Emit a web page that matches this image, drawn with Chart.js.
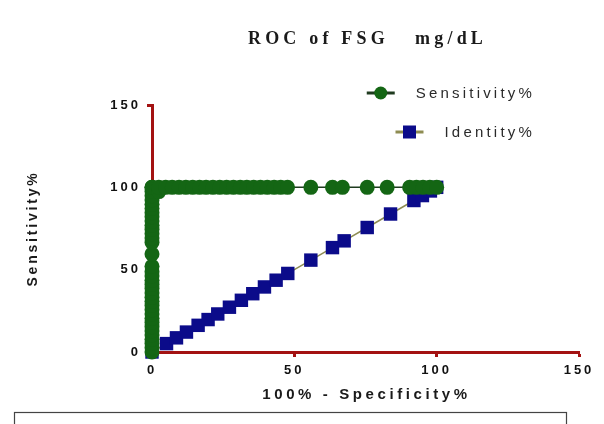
<!DOCTYPE html>
<html>
<head>
<meta charset="utf-8">
<script src="https://cdn.jsdelivr.net/npm/chart.js@4/dist/chart.umd.min.js"></script>
<style>
html, body { margin: 0; padding: 0; background: #fff; }
#wrap { width: 604px; height: 424px; }
</style>
</head>
<body>
<div id="wrap"><canvas id="rocChart" width="604" height="424"></canvas></div>
<script>
// ROC curve points: x = 100% - Specificity%, y = Sensitivity%
var sensX = [0, 0, 0, 0, 0, 0, 0, 0, 0, 0,
             0, 0, 0, 0, 0, 0, 0, 0, 0, 0,
             0, 0, 0, 0, 0, 0, 0, 0, 0, 0,
             0, 0, 0, 0, 0, 0, 0,
             2.4, 2.4, 4.8, 7.1, 9.5, 11.9, 14.3, 16.7, 19.0, 21.4,
             23.8, 26.2, 28.6, 31.0, 33.3, 35.7, 38.1, 40.5, 42.9, 45.2,
             47.6, 55.8, 63.4, 66.9, 75.6, 82.6, 90.5, 92.9, 95.2, 97.6, 100];
var sensY = [0, 2.6, 5.1, 7.7, 10.3, 12.8, 15.4, 17.9, 20.5, 23.1,
             25.6, 28.2, 30.8, 33.3, 35.9, 38.5, 41.0, 43.6, 46.2, 48.7,
             52.0, 59.5, 66.5, 69.2, 71.8, 74.4, 76.9, 79.5, 82.1, 84.6,
             87.2, 89.7, 92.3, 94.9, 97.4, 100, 100,
             97.4, 100, 100, 100, 100, 100, 100, 100, 100, 100,
             100, 100, 100, 100, 100, 100, 100, 100, 100, 100,
             100, 100, 100, 100, 100, 100, 100, 100, 100, 100, 100];
// reference diagonal
var identX = [0, 5.1, 8.6, 12.1, 16.2, 19.7, 23.1, 27.2, 31.4, 35.4, 39.5,
              43.6, 47.7, 55.8, 63.4, 67.5, 75.6, 83.8, 92.0, 95.0, 97.8, 100];
var identY = [0, 5.1, 8.6, 12.1, 16.2, 19.7, 23.1, 27.2, 31.4, 35.4, 39.5,
              43.6, 47.7, 55.8, 63.4, 67.5, 75.6, 83.8, 92.0, 95.0, 97.8, 100];
var xTicks = [0, 50, 100, 150];
var yTicks = [0, 50, 100, 150];
var seriesNames = ['Sensitivity%', 'Identity%'];

var axisRed = '#a31212';

function toPoints(xs, ys) {
  return xs.map(function(x, i) { return { x: x, y: ys[i] }; });
}

var decorPlugin = {
  id: 'decor',
  beforeInit: function(chart) { chart.ctx.letterSpacing = '3px'; },
  beforeDraw: function(chart) { chart.ctx.letterSpacing = '3px'; },
  afterDraw: function(chart) {
    var ctx = chart.ctx;
    var area = chart.chartArea;
    ctx.save();

    // title
    ctx.fillStyle = '#1a1a1a';
    ctx.textAlign = 'center';
    ctx.textBaseline = 'middle';
    ctx.font = 'bold 18px "Liberation Serif"';
    ctx.letterSpacing = '4.2px';
    ctx.fillText('ROC of FSG   mg/dL', (area.left + area.right) / 2 + 2, 39);

    // axis titles
    ctx.font = 'bold 15px "Liberation Sans"';
    ctx.letterSpacing = '3.6px';
    ctx.fillText('100% - Specificity%', (area.left + area.right) / 2 + 1, 395);
    ctx.save();
    ctx.translate(33, (area.top + area.bottom) / 2);
    ctx.rotate(-Math.PI / 2);
    ctx.font = 'bold 14px "Liberation Sans"';
    ctx.letterSpacing = '2.8px';
    ctx.fillText('Sensitivity%', 0, 0);
    ctx.restore();

    // legend
    ctx.font = '15px "Liberation Sans"';
    ctx.letterSpacing = '3.2px';
    ctx.textAlign = 'left';
    var rowsY = [area.top - 12, area.top + 27];
    chart.data.datasets.forEach(function(ds, i) {
      var w = ctx.measureText(ds.label).width;
      var tx = area.right - 44 - w;
      var cx = tx - 35;
      var cy = rowsY[i];
      ctx.strokeStyle = ds.borderColor;
      ctx.lineWidth = 3;
      ctx.beginPath();
      ctx.moveTo(cx - 14, cy);
      ctx.lineTo(cx + 14, cy);
      ctx.stroke();
      ctx.fillStyle = ds.pointBackgroundColor;
      ctx.beginPath();
      if (ds.pointStyle === 'rect') {
        ctx.rect(cx - 6.5, cy - 6.5, 13, 13);
      } else {
        ctx.arc(cx, cy, 6.5, 0, Math.PI * 2);
      }
      ctx.fill();
      ctx.fillStyle = '#2a2a2a';
      ctx.fillText(ds.label, tx, cy + 1);
    });

    // frame of the box below the chart
    ctx.strokeStyle = '#444';
    ctx.lineWidth = 1.2;
    ctx.strokeRect(14.5, 412.5, 552, 30);
    ctx.restore();
  }
};

var ctx = document.getElementById('rocChart').getContext('2d');
var chart = new Chart(ctx, {
  type: 'scatter',
  data: {
    datasets: [{
      label: seriesNames[0],
      data: toPoints(sensX, sensY),
      showLine: true,
      borderColor: '#1f3b1f',
      borderWidth: 1.5,
      pointStyle: 'circle',
      pointRadius: 7.5,
      pointBackgroundColor: '#146614',
      pointBorderWidth: 0,
      clip: false,
      order: 1
    }, {
      label: seriesNames[1],
      data: toPoints(identX, identY),
      showLine: true,
      borderColor: '#8e8c52',
      borderWidth: 1.5,
      pointStyle: 'rect',
      pointRadius: 9.5,
      pointBackgroundColor: '#0b0b8a',
      pointBorderWidth: 0,
      clip: false,
      order: 2
    }]
  },
  options: {
    responsive: false,
    animation: false,
    layout: { padding: { top: 105, right: 25, bottom: 0, left: 0 } },
    plugins: {
      legend: { display: false },
      title: { display: false },
      tooltip: { enabled: false }
    },
    scales: {
      x: {
        type: 'linear',
        min: 0,
        max: 150,
        afterBuildTicks: function(scale) {
          scale.ticks = xTicks.map(function(v) { return { value: v }; });
        },
        afterFit: function(scale) { scale.height = 72; },
        border: { display: true, color: axisRed, width: 3 },
        grid: { display: true, drawOnChartArea: false, drawTicks: true, tickLength: 5, tickColor: axisRed, tickWidth: 3 },
        ticks: {
          color: '#111',
          padding: 6,
          maxRotation: 0,
          font: { family: 'Liberation Sans', size: 13, weight: 'bold' }
        }
      },
      y: {
        type: 'linear',
        min: 0,
        max: 150,
        afterBuildTicks: function(scale) {
          scale.ticks = yTicks.map(function(v) { return { value: v }; });
        },
        afterFit: function(scale) { scale.width = 152; },
        border: { display: true, color: axisRed, width: 3 },
        grid: { display: true, drawOnChartArea: false, drawTicks: true, tickLength: 5, tickColor: axisRed, tickWidth: 3 },
        ticks: {
          color: '#111',
          padding: 6,
          font: { family: 'Liberation Sans', size: 13, weight: 'bold' }
        }
      }
    }
  },
  plugins: [decorPlugin]
});
</script>
</body>
</html>
